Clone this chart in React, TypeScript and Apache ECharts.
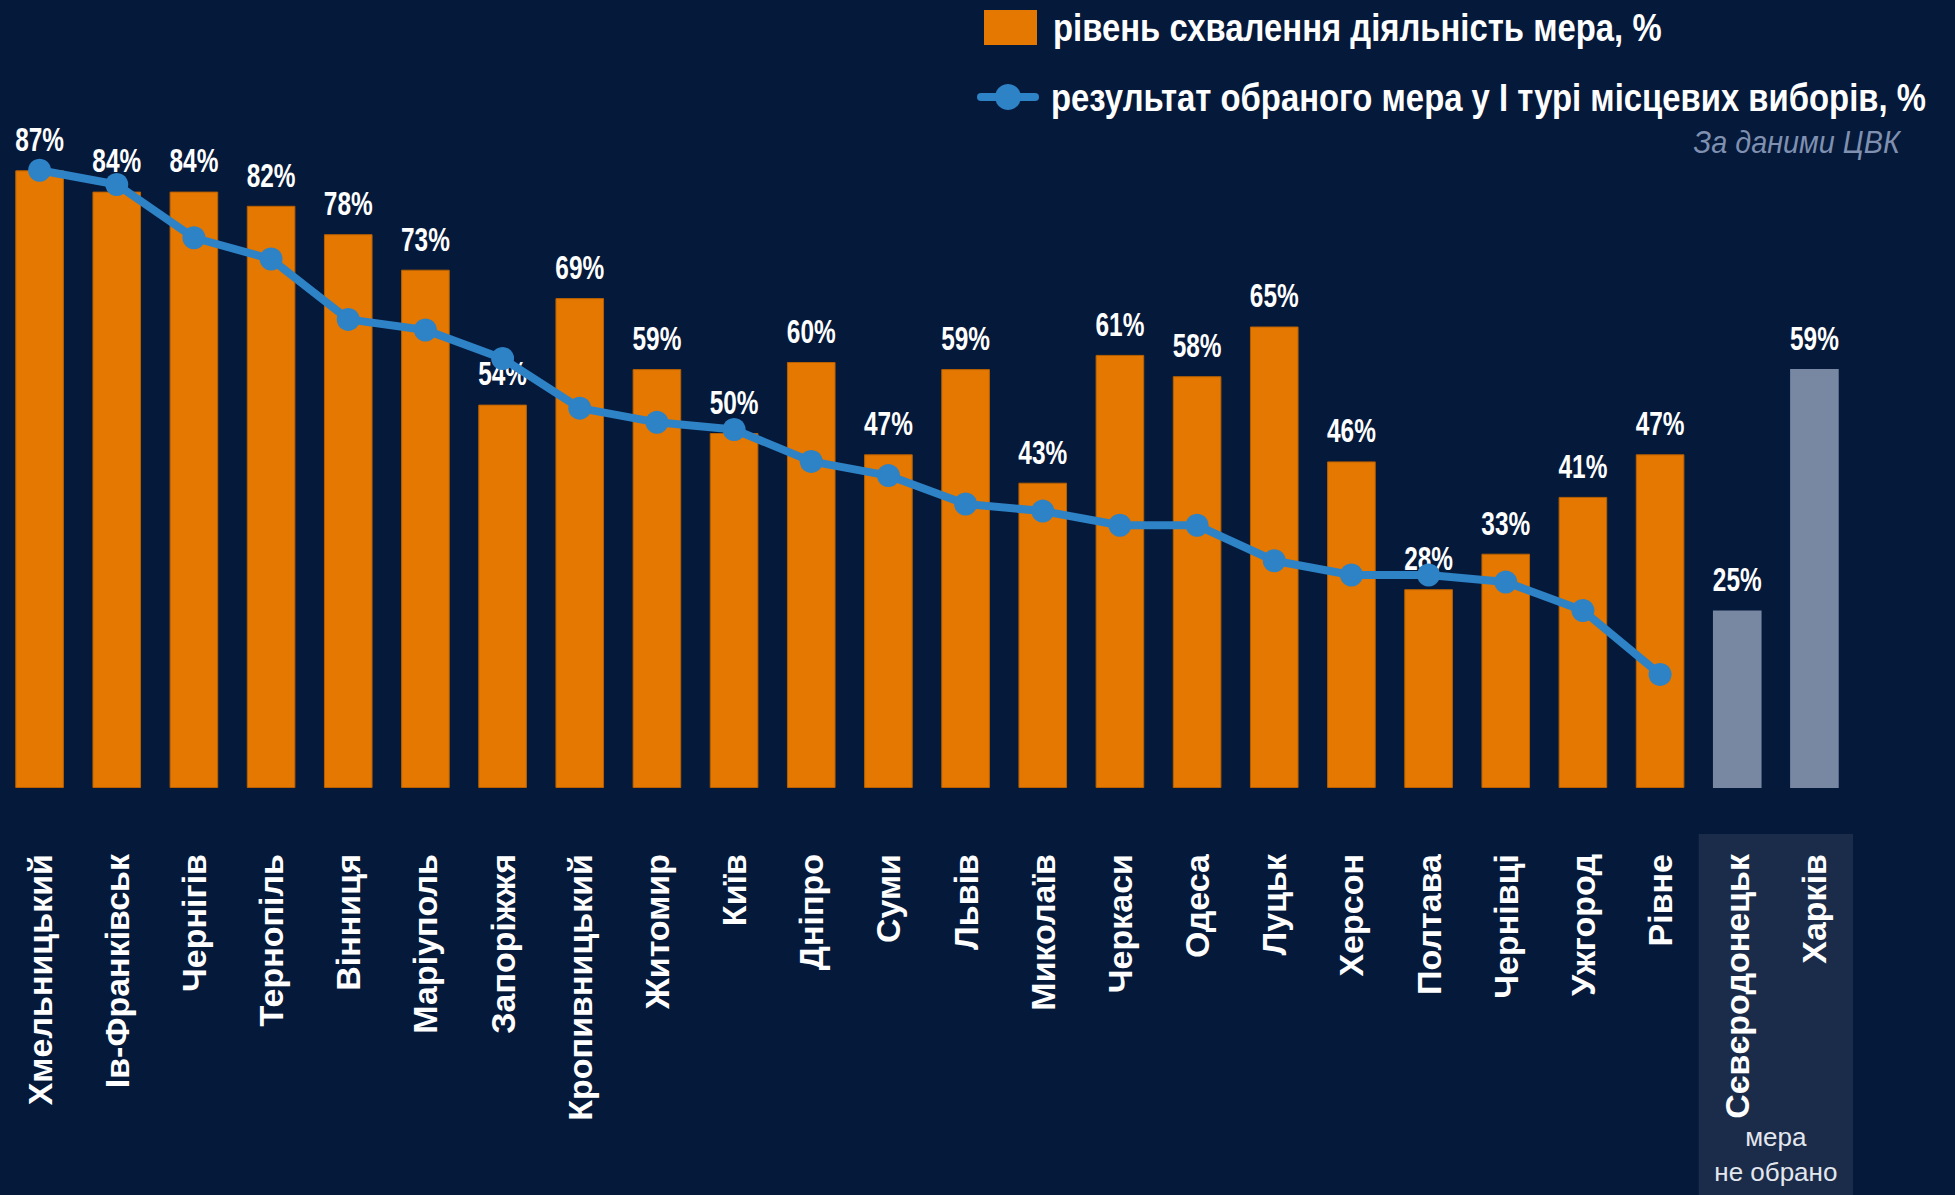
import React, { useEffect, useRef } from "react";
import * as echarts from "echarts";

const categories = [
  "Хмельницький", "Ів-Франківськ", "Чернігів", "Тернопіль", "Вінниця", "Маріуполь",
  "Запоріжжя", "Кропивницький", "Житомир", "Київ", "Дніпро", "Суми", "Львів",
  "Миколаїв", "Черкаси", "Одеса", "Луцьк", "Херсон", "Полтава", "Чернівці",
  "Ужгород", "Рівне", "Сєвєродонецьк", "Харків",
];
const approval = [87, 84, 84, 82, 78, 73, 54, 69, 59, 50, 60, 47, 59, 43, 61, 58, 65, 46, 28, 33, 41, 47, 25, 59];
const firstRound = [87, 85, 77.5, 74.5, 66, 64.5, 60.5, 53.5, 51.5, 50.5, 46, 44, 40, 39, 37, 37, 32, 30, 30, 29, 25, 16, null, null];
const noMayorElected = ["Сєвєродонецьк", "Харків"];

const legendBar = "рівень схвалення діяльність мера, %";
const legendLine = "результат обраного мера у І турі місцевих виборів, %";
const sourceNote = "За даними ЦВК";
const noMayorNote = "мера\nне обрано";

const BG = "#05193a";
const ORANGE = "#e47800";
const GRAY = "#7888a3";
const BLUE = "#2e82c6";
const SANS = "'Liberation Sans', Arial, sans-serif";

const W = 1955;
const H = 1195;
const GRID_LEFT = 1;
const GRID_RIGHT = 102;
const GRID_TOP = 78;
const GRID_BOTTOM = 407;

export default function App() {
  const ref = useRef<HTMLDivElement>(null);

  useEffect(() => {
    if (!ref.current) return;
    const chart = echarts.init(ref.current, null, { renderer: "svg" });
    const band = (W - GRID_LEFT - GRID_RIGHT) / categories.length;
    const firstNo = categories.indexOf(noMayorElected[0]);
    const boxX = GRID_LEFT + firstNo * band;
    const boxW = band * noMayorElected.length;
    const baseY = H - GRID_BOTTOM;

    chart.setOption({
      animation: false,
      backgroundColor: BG,
      grid: { left: GRID_LEFT, right: GRID_RIGHT, top: GRID_TOP, bottom: GRID_BOTTOM, containLabel: false },
      xAxis: {
        type: "category",
        data: categories,
        axisLine: { show: false },
        axisTick: { show: false },
        axisLabel: {
          rotate: 90,
          margin: 66,
          interval: 0,
          color: "#ffffff",
          fontFamily: SANS,
          fontWeight: "bold",
          fontSize: 34,
        },
      },
      yAxis: {
        type: "value",
        min: 0,
        max: 100,
        show: false,
        splitLine: { show: false },
      },
      graphic: [
        {
          type: "rect",
          z: -10,
          shape: { x: boxX, y: baseY + 46, width: boxW, height: H - baseY - 46 },
          style: { fill: "#1b2c4a" },
        },
        {
          type: "text",
          x: boxX + boxW / 2,
          y: 1154,
          style: {
            text: noMayorNote,
            fill: "#e3e7ee",
            font: `26px ${SANS}`,
            align: "center",
            verticalAlign: "middle",
            lineHeight: 35,
          },
        },
        {
          type: "rect",
          shape: { x: 984, y: 10, width: 53, height: 35 },
          style: { fill: ORANGE },
        },
        {
          type: "text",
          x: 1053,
          y: 28,
          scaleX: 0.865,
          style: {
            text: legendBar,
            fill: "#ffffff",
            font: `bold 38px ${SANS}`,
            verticalAlign: "middle",
          },
        },
        {
          type: "line",
          shape: { x1: 981, y1: 97, x2: 1035, y2: 97 },
          style: { stroke: BLUE, lineWidth: 8, lineCap: "round" },
        },
        {
          type: "circle",
          shape: { cx: 1008, cy: 97, r: 13 },
          style: { fill: BLUE },
        },
        {
          type: "text",
          x: 1051,
          y: 98,
          scaleX: 0.865,
          style: {
            text: legendLine,
            fill: "#ffffff",
            font: `bold 38px ${SANS}`,
            verticalAlign: "middle",
          },
        },
        {
          type: "text",
          x: 1900,
          y: 142,
          scaleX: 0.93,
          style: {
            text: sourceNote,
            fill: "#7f90b0",
            font: `italic 31px ${SANS}`,
            align: "right",
            verticalAlign: "middle",
          },
        },
      ],
      series: [
        {
          name: legendBar,
          type: "bar",
          barWidth: "63%",
          data: approval.map((v, i) => ({
            value: v,
            itemStyle: noMayorElected.includes(categories[i])
              ? { color: GRAY, borderColor: GRAY, borderWidth: 0 }
              : { color: ORANGE, borderColor: "#b86000", borderWidth: 1 },
          })),
          z: 2,
        },
        {
          name: "labels",
          type: "custom",
          data: approval.map((v, i) => [i, v]),
          encode: { x: 0, y: 1 },
          silent: true,
          z: 3,
          renderItem: (params: any, api: any) => {
            const p = api.coord([api.value(0), api.value(1)]);
            return {
              type: "text",
              x: p[0],
              y: p[1] - 14,
              scaleX: 0.74,
              style: {
                text: `${api.value(1)}%`,
                fill: "#ffffff",
                font: `bold 33px ${SANS}`,
                align: "center",
                verticalAlign: "bottom",
              },
            };
          },
        },
        {
          name: legendLine,
          type: "line",
          data: firstRound,
          connectNulls: false,
          symbol: "circle",
          symbolSize: 23,
          lineStyle: { color: BLUE, width: 8 },
          itemStyle: { color: BLUE },
          z: 4,
        },
      ],
    });
    return () => chart.dispose();
  }, []);

  return (
    <div
      ref={ref}
      style={{ position: "fixed", left: 0, top: 0, width: W, height: H }}
    />
  );
}
